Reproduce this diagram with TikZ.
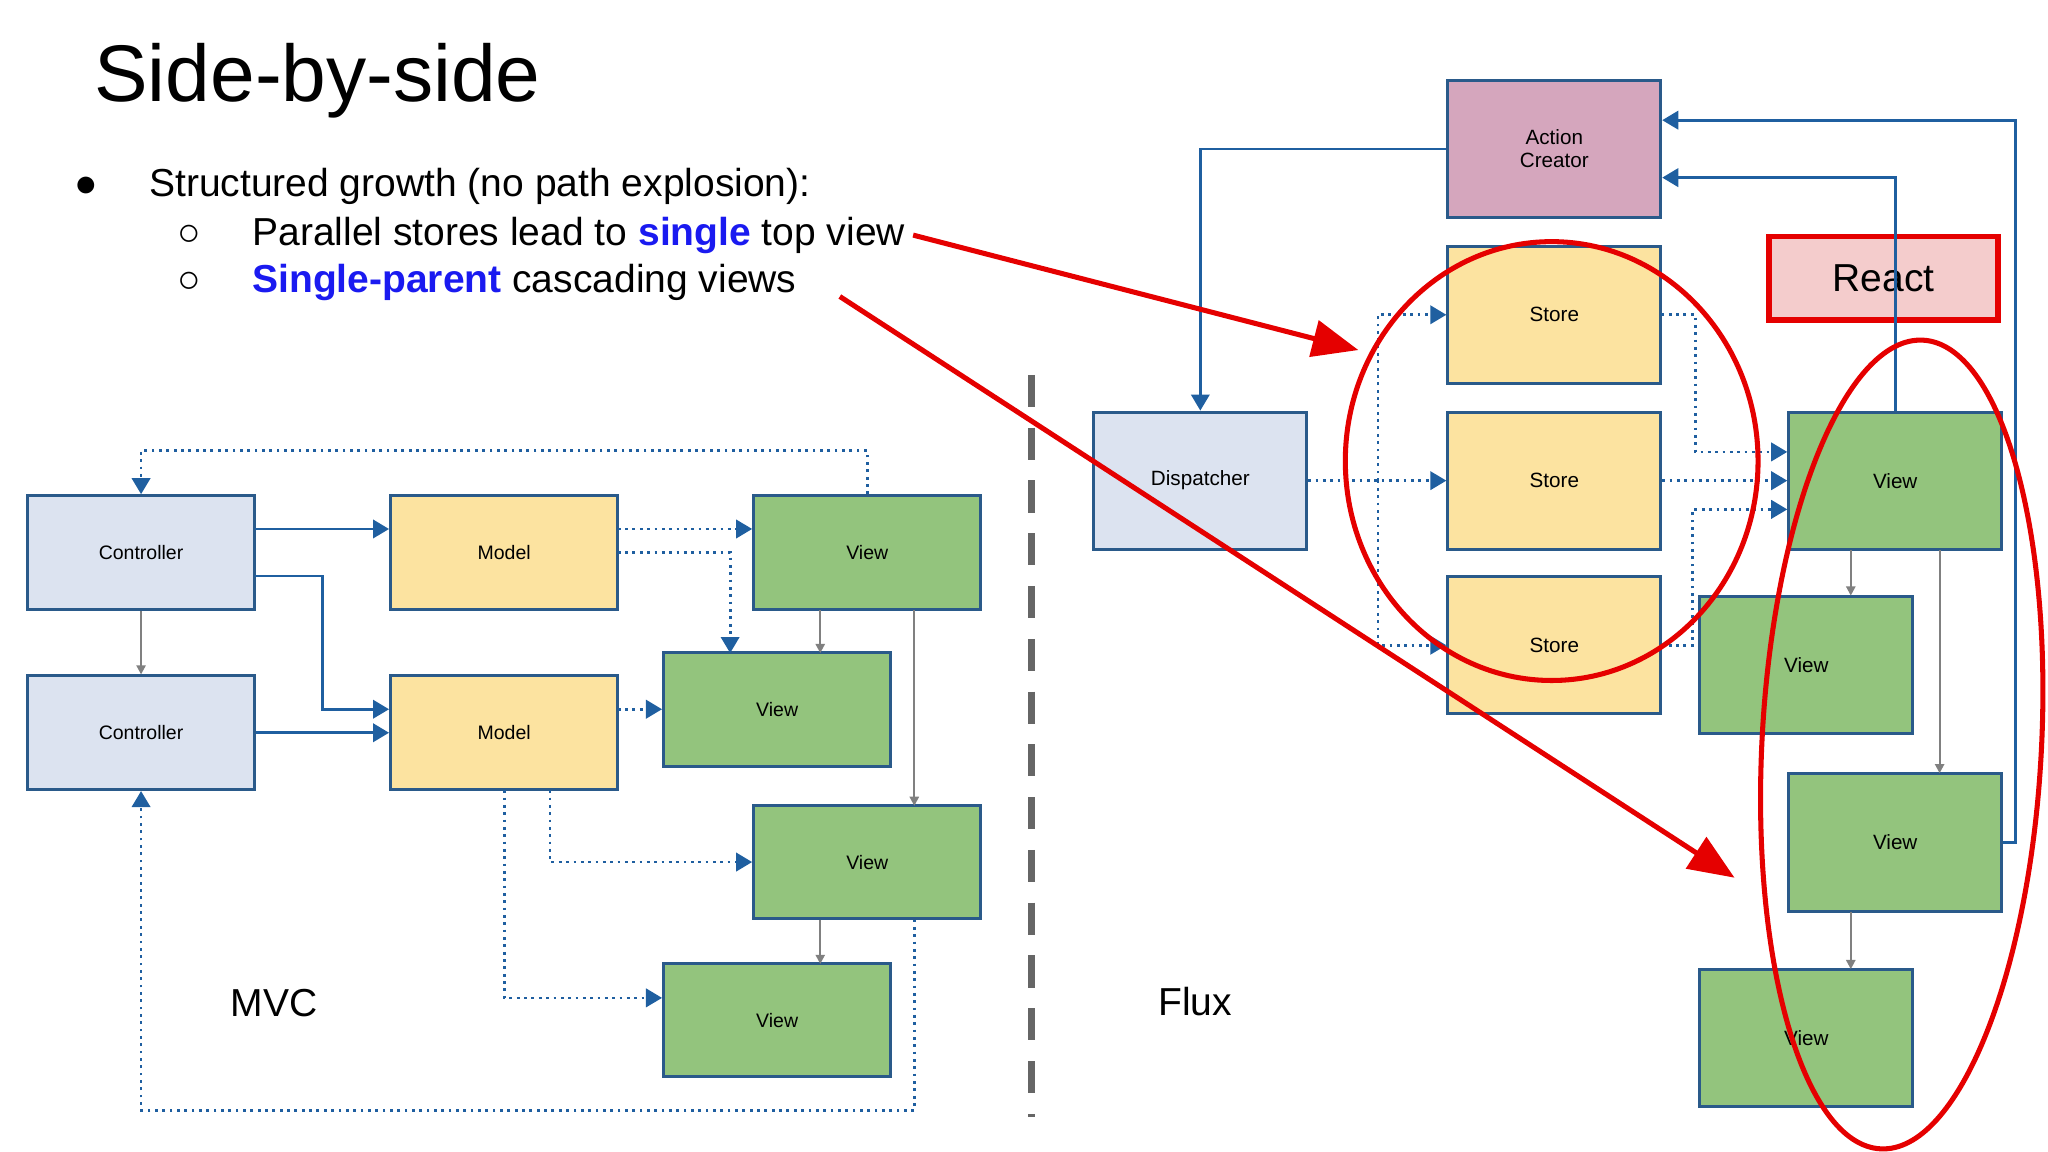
\documentclass[tikz,border=0pt]{standalone}
\usepackage{fontspec}
\setmainfont{Liberation Sans}
\usetikzlibrary{arrows.meta}
\definecolor{bd}{HTML}{2A5A8A}
\definecolor{ab}{HTML}{1F5FA0}
\definecolor{cfill}{HTML}{DCE3F0}
\definecolor{mfill}{HTML}{FCE3A0}
\definecolor{vfill}{HTML}{93C47D}
\definecolor{vbd}{HTML}{2E5E5A}
\definecolor{pfill}{HTML}{D5A6BD}
\definecolor{rfill}{HTML}{F4CCCC}
\definecolor{kw}{HTML}{1A1AF0}
\begin{document}
\begin{tikzpicture}[x=0.02cm,y=-0.02cm,
 box/.style={draw=bd,line width=1.3pt,minimum width=3.48cm,minimum height=1.74cm,font=\fontsize{8.5}{10}\selectfont,inner sep=0},
 fbox/.style={box,minimum width=3.26cm,minimum height=2.1cm,font=\fontsize{9}{10}\selectfont},
 ctl/.style={box,fill=cfill}, mdl/.style={box,fill=mfill}, vw/.style={box,fill=vfill},
 sol/.style={ab,line width=1.2pt,-{Triangle[length=7pt,width=8pt]}},
 dot/.style={ab,line width=1.2pt,dotted,-{Triangle[length=7pt,width=8pt]}},
 gry/.style={gray,line width=0.9pt,-{Triangle[length=4pt,width=4pt]}},
 red/.style={red!90!black,line width=2.2pt}]
\useasboundingbox (0,0) rectangle (1568,882);
% title & bullets
\node[anchor=west,font=\fontsize{35}{40}\selectfont] (title) at (66,62) {Side-by-side};
\node[font=\fontsize{17}{20}\selectfont] (b1) at (66,143) {●};
\node[anchor=west,font=\fontsize{17}{20}\selectfont] (t1) at (108,143) {Structured growth (no path explosion):};
\node[font=\fontsize{17}{20}\selectfont] (b2) at (145,180) {○};
\node[anchor=west,font=\fontsize{17}{20}\selectfont] (t2) at (187,180) {Parallel stores lead to \textcolor{kw}{\textbf{single}} top view};
\node[font=\fontsize{17}{20}\selectfont] (b3) at (145,216) {○};
\node[anchor=west,font=\fontsize{17}{20}\selectfont] (t3) at (187,216) {\textcolor{kw}{\textbf{Single-parent}} cascading views};
% MVC
\node[ctl] (c1) at (108,423) {Controller};
\node[ctl] (c2) at (108,561) {Controller};
\node[mdl] (m1) at (386,423) {Model};
\node[mdl] (m2) at (386,561) {Model};
\node[vw] (v1) at (664,423) {View};
\node[vw] (v2) at (595,543) {View};
\node[vw] (v3) at (664,660) {View};
\node[vw] (v4) at (595,781) {View};
\draw[sol] (195,405) -- (m1.west|-0,405);
\draw[sol] (195,441) -- (247,441) -- (247,543) -- (m2.west|-0,543);
\draw[sol] (c2) -- (m2);
\draw[gry] (c1) -- (c2);
\draw[dot] (473,405) -- (v1.west|-0,405);
\draw[dot] (473,423) -- (559,423) -- (559,500);
\draw[gry] (628,467) -- (628,500);
\draw[gry] (700,467) -- (700,617);
\draw[dot] (473,543) -- (v2.west|-0,543);
\draw[dot] (421,605) -- (421,660) -- (v3.west);
\draw[dot] (386,605) -- (386,764) -- (v4.west|-0,764);
\draw[gry] (628,704) -- (628,738);
\draw[dot] (700,704) -- (700,850) -- (108,850) -- (c2.south);
\draw[dot] (v1.north) -- (664,345) -- (108,345) -- (c1.north);
\node[font=\fontsize{17}{20}\selectfont] (mvc) at (210,768) {MVC};
% divider
\draw[gray!80!black,line width=3pt,dash pattern=on 14pt off 9pt] (790,287) -- (790,855);
% Flux
\node[fbox,fill=pfill,align=center] (ac) at (1190,114) {Action\\Creator};
\node[fbox,fill=mfill] (s1) at (1190,241) {Store};
\node[fbox,fill=mfill] (s2) at (1190,368) {Store};
\node[fbox,fill=mfill] (s3) at (1190,494) {Store};
\node[fbox,fill=cfill] (dp) at (919,368) {Dispatcher};
\node[fbox,fill=vfill] (va) at (1451,368) {View};
\node[fbox,fill=vfill] (vb) at (1383,509) {View};
\node[fbox,fill=vfill] (vc) at (1451,645) {View};
\node[fbox,fill=vfill] (vd) at (1383,795) {View};
\node[draw=red!90!black,line width=2.5pt,fill=rfill,minimum width=3.5cm,minimum height=1.28cm,font=\fontsize{17}{20}\selectfont] (react) at (1442,213) {React};
\node[font=\fontsize{17}{20}\selectfont] (flux) at (915,767) {Flux};
\draw[sol] (ac.west) -- (919,114) -- (dp.north);
\draw[dot] (dp.east) -- (s2.west);
\draw[dot] (1055,368) -- (1055,241) -- (s1.west);
\draw[dot] (1055,368) -- (1055,494) -- (s3.west);
\draw[dot] (1272,241) -- (1298,241) -- (1298,346) -- (va.west|-0,346);
\draw[dot] (s2.east) -- (va.west);
\draw[dot] (1272,494) -- (1296,494) -- (1296,390) -- (va.west|-0,390);
\draw[sol] (va.north) -- (1451,136) -- (ac.east|-0,136);
\draw[sol] (vc.east) -- (1543,645) -- (1543,92) -- (ac.east|-0,92);
\draw[gry] (1417,421) -- (1417,456);
\draw[gry] (1485,421) -- (1485,592);
\draw[gry] (1417,698) -- (1417,742);
% red overlays
\draw[red,-{Triangle[length=20pt,width=16pt]}] (t2.east) -- (1040,268);
\draw[red,-{Triangle[length=20pt,width=16pt]}] (643,227) -- (1328,672);
\draw[red] (1188,353) ellipse [x radius=158,y radius=168];
\draw[red,rotate around={-3:(1456,570)}] (1456,570) ellipse [x radius=107,y radius=310];
\end{tikzpicture}
\end{document}
